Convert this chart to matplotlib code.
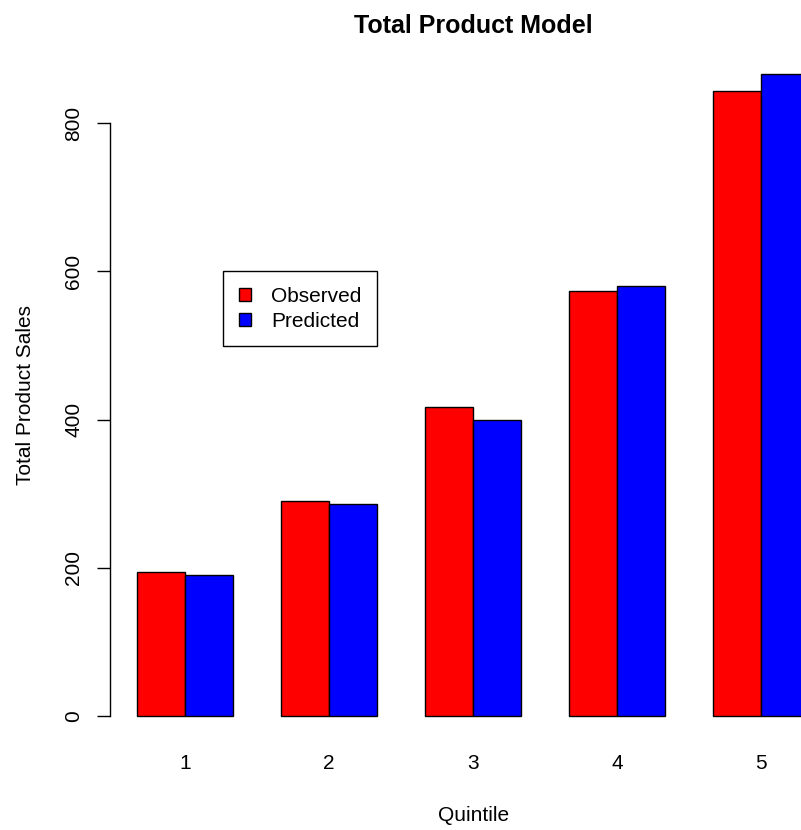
import numpy as np
import matplotlib.pyplot as plt
from matplotlib.patches import Patch

plt.rcParams['font.family'] = ['Liberation Sans', 'DejaVu Sans']

# values
quintiles = ["1", "2", "3", "4", "5"]
observed = [194, 290, 417, 574, 844]
predicted = [191, 286, 400, 581, 867]

fig = plt.figure(figsize=(8.01, 8.30), dpi=100)
# R barplot plot region: runs past the right edge of the image
ax = fig.add_axes([110.1 / 801, 88.3 / 830, 726 / 801, 693.7 / 830])

n = len(quintiles)
left_obs = np.arange(n) * 3 + 1
left_pred = left_obs + 1
ax.bar(left_obs, observed, width=1, align="edge", color="red",
       edgecolor="black", linewidth=1)
ax.bar(left_pred, predicted, width=1, align="edge", color="blue",
       edgecolor="black", linewidth=1)

top = max(max(observed), max(predicted))
ax.set_xlim(1 - 0.04 * 14, 15 + 0.04 * 14)
ax.set_ylim(-0.04 * top, 1.04 * top)

for s in ["top", "right", "bottom"]:
    ax.spines[s].set_visible(False)
ax.spines["left"].set_bounds(0, 800)
ax.spines["left"].set_linewidth(1)

ax.set_yticks([0, 200, 400, 600, 800])
ax.set_yticklabels(["0", "200", "400", "600", "800"], rotation=90,
                   va="center", fontsize=15)
ax.tick_params(axis="y", length=9.4, width=1, pad=9.8)
ax.set_xticks(left_pred)
ax.set_xticklabels(quintiles, fontsize=15)
ax.tick_params(axis="x", length=0, pad=8.5)

ax.set_xlabel("Quintile", fontsize=15, labelpad=24)
ax.set_ylabel("Total Product Sales", fontsize=15, labelpad=21)
fig.text(473 / 801, 1 - 26 / 830, "Total Product Model", fontsize=18,
         fontweight="bold", ha="center", va="center")

handles = [Patch(facecolor="red", edgecolor="black", label="Observed"),
           Patch(facecolor="blue", edgecolor="black", label="Predicted")]
leg = ax.legend(handles=handles, loc="upper left",
                bbox_to_anchor=(223 / 801, 1 - 271 / 830),
                bbox_transform=fig.transFigure, fontsize=15,
                fancybox=False, framealpha=1, edgecolor="black",
                borderaxespad=0, handlelength=0.6, handleheight=0.6,
                handletextpad=0.95, labelspacing=0.3, borderpad=0.75)
leg.get_frame().set_linewidth(1)

fig.savefig("out.png", dpi=100)
